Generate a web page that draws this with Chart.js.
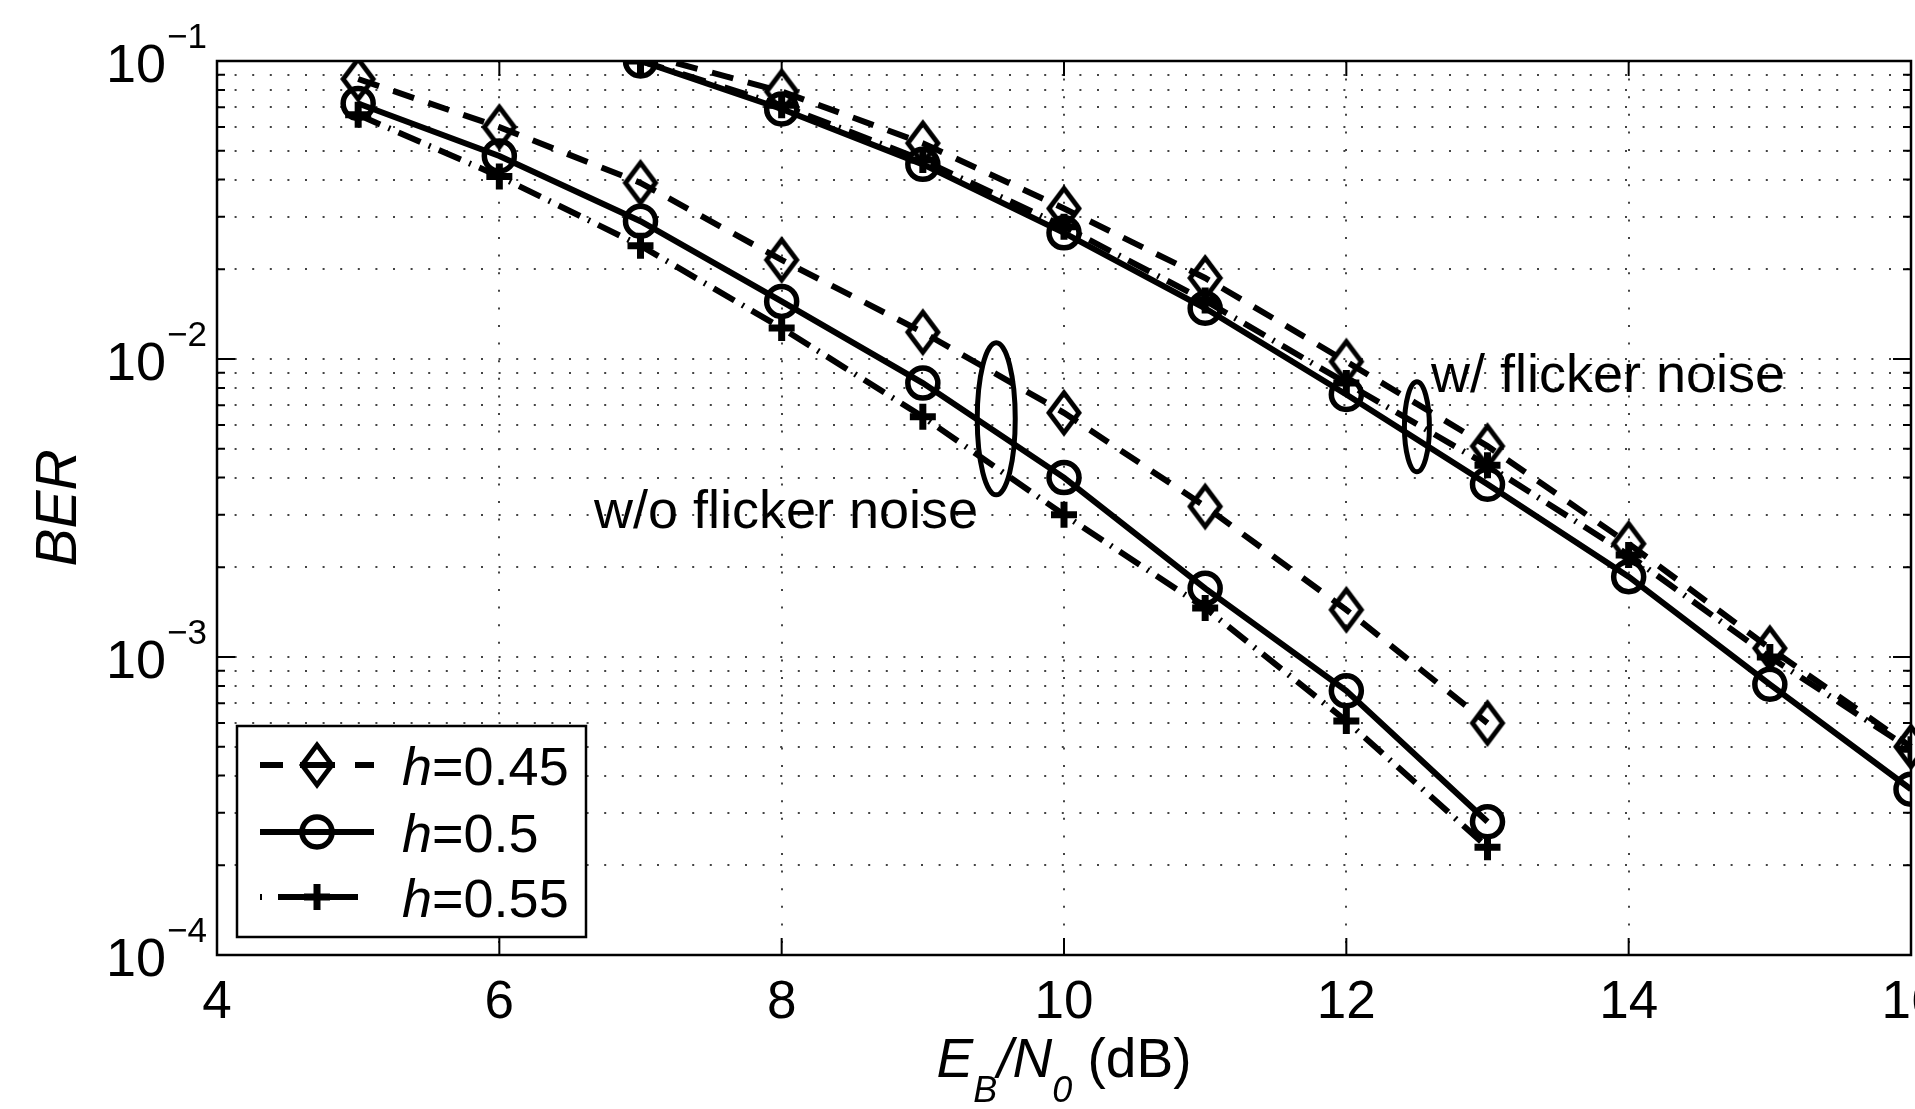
<!DOCTYPE html>
<html>
<head>
<meta charset="utf-8">
<script src="https://cdn.jsdelivr.net/npm/chart.js@4.4.1/dist/chart.umd.min.js"></script>
<style>
  html, body { margin: 0; padding: 0; background: #fff; overflow: hidden; }
  #wrap { width: 1960px; height: 1109px; }
</style>
</head>
<body>
<div id="wrap"><canvas id="ber" width="1960" height="1109"></canvas></div>
<script>
// Eb/N0 points (dB)
const ebn0Low = [5, 6, 7, 8, 9, 10, 11, 12, 13];
const ebn0High = [7, 8, 9, 10, 11, 12, 13, 14, 15, 16];

// w/o flicker noise
const berLow045 = [0.087, 0.060, 0.039, 0.0215, 0.0123, 0.0066, 0.0032, 0.00144, 0.00060];
const berLow050 = [0.072, 0.048, 0.029, 0.0156, 0.0083, 0.0040, 0.0017, 0.00077, 0.00028];
const berLow055 = [0.066, 0.041, 0.024, 0.0127, 0.0064, 0.0030, 0.00146, 0.00061, 0.00023];

// w/ flicker noise
const berHigh045 = [0.106, 0.079, 0.053, 0.032, 0.0187, 0.0098, 0.0051, 0.0024, 0.00107, 0.00050];
const berHigh050 = [0.100, 0.069, 0.045, 0.0265, 0.0148, 0.0076, 0.0038, 0.00186, 0.00081, 0.00036];
const berHigh055 = [0.100, 0.071, 0.0465, 0.0278, 0.0157, 0.0083, 0.0044, 0.0022, 0.00100, 0.00049];

const xTicks = [4, 6, 8, 10, 12, 14, 16];
const yDecades = [-4, -3, -2, -1];
const hLabels = ['0.45', '0.5', '0.55'];

const FONT = "'Liberation Sans', Arial, Helvetica, sans-serif";

// y grid: every 1..9 x 10^k, major at 10^k
const yTicks = [];
yDecades.forEach((d, i) => {
  const steps = i < yDecades.length - 1 ? 9 : 1;
  for (let m = 1; m <= steps; m++) yTicks.push({ value: +(m * Math.pow(10, d)).toPrecision(3), major: m === 1 });
});

const pts = (xs, ys) => xs.map((x, i) => ({ x: x, y: ys[i] }));

function makeDiamond() {
  const c = document.createElement('canvas');
  c.width = 42; c.height = 54;
  const g = c.getContext('2d');
  g.strokeStyle = '#000';
  g.lineWidth = 4.8;
  g.lineJoin = 'miter';
  g.beginPath();
  g.moveTo(21, 7); g.lineTo(36, 27); g.lineTo(21, 47); g.lineTo(6, 27);
  g.closePath();
  g.stroke();
  return c;
}
const diamond = makeDiamond();

const style045 = { borderDash: [22, 15], pointStyle: diamond, pointBorderWidth: 1,
  pointRadius: c => (c.raw && c.raw.y > 0.1) ? 0 : 18 };
const style050 = { borderDash: [], pointStyle: 'circle', pointRadius: 15, pointBorderWidth: 5.5 };
const style055 = { borderDash: [24, 9, 2, 9], pointStyle: 'cross', pointRadius: 13, pointBorderWidth: 7 };

const common = { borderColor: '#000', borderWidth: 6, pointBorderColor: '#000',
  pointBackgroundColor: 'rgba(0,0,0,0)', tension: 0, fill: false };

const annotations = [
  { text: 'w/o flicker noise', x: 6.67, y: 0.00271 },
  { text: 'w/ flicker noise', x: 12.6, y: 0.00775 }
];
const ellipses = [
  { x: 9.52, y: 0.0063, rx: 19, ry: 76 },
  { x: 12.5, y: 0.00592, rx: 12.5, ry: 45 }
];

const axesFrame = {
  id: 'axesFrame',
  beforeDatasetsDraw(chart) {
    const { ctx, chartArea: a, scales: { x, y } } = chart;
    ctx.save();
    ctx.strokeStyle = '#000';
    ctx.lineWidth = 2;
    ctx.beginPath();
    x.ticks.forEach(t => {
      const px = x.getPixelForValue(t.value);
      ctx.moveTo(px, a.bottom); ctx.lineTo(px, a.bottom - 17);
      ctx.moveTo(px, a.top); ctx.lineTo(px, a.top + 15);
    });
    y.ticks.forEach(t => {
      const py = y.getPixelForValue(t.value);
      const len = t.major ? 18 : 8;
      ctx.moveTo(a.left, py); ctx.lineTo(a.left + len, py);
      ctx.moveTo(a.right, py); ctx.lineTo(a.right - len, py);
    });
    ctx.stroke();
    ctx.lineWidth = 2.5;
    ctx.strokeRect(a.left, a.top, a.right - a.left, a.bottom - a.top);
    ctx.restore();
  },
  afterDatasetsDraw(chart) {
    const { ctx, scales: { x, y } } = chart;
    ctx.save();
    ctx.strokeStyle = '#000';
    ctx.lineWidth = 5;
    ellipses.forEach(e => {
      ctx.beginPath();
      ctx.ellipse(x.getPixelForValue(e.x), y.getPixelForValue(e.y), e.rx, e.ry, 0, 0, Math.PI * 2);
      ctx.stroke();
    });
    ctx.restore();
  },
  afterDraw(chart) {
    const { ctx, chartArea: a, scales: { x, y } } = chart;
    ctx.save();
    ctx.fillStyle = '#000';

    // x tick labels
    ctx.font = '53px ' + FONT;
    ctx.textAlign = 'center';
    ctx.textBaseline = 'alphabetic';
    xTicks.forEach(v => ctx.fillText(String(v), x.getPixelForValue(v), 1018));

    // y tick labels 10^k
    yDecades.forEach(d => {
      const py = y.getPixelForValue(Math.pow(10, d));
      ctx.font = '54px ' + FONT;
      ctx.textAlign = 'right';
      ctx.fillText('10', a.left - 51, py + 21);
      ctx.font = '35px ' + FONT;
      ctx.textAlign = 'left';
      ctx.fillText('\u2212' + Math.abs(d), a.left - 50, py - 13);
    });

    // x title E_B/N_0 (dB)
    const parts = [
      { t: 'E', f: 'italic 55px ', dy: 0 },
      { t: 'B', f: 'italic 36px ', dy: 25 },
      { t: '/', f: 'italic 55px ', dy: 0 },
      { t: 'N', f: 'italic 55px ', dy: 0 },
      { t: '0', f: 'italic 36px ', dy: 25 },
      { t: ' (dB)', f: '55px ', dy: 0 }
    ];
    let total = 0;
    parts.forEach(p => { ctx.font = p.f + FONT; p.w = ctx.measureText(p.t).width; total += p.w; });
    let cx = (a.left + a.right) / 2 - total / 2;
    ctx.textAlign = 'left';
    parts.forEach(p => { ctx.font = p.f + FONT; ctx.fillText(p.t, cx, 1077 + p.dy); cx += p.w; });

    // y title
    ctx.save();
    ctx.translate(76, (a.top + a.bottom) / 2);
    ctx.rotate(-Math.PI / 2);
    ctx.font = 'italic 57px ' + FONT;
    ctx.textAlign = 'center';
    ctx.fillText('BER', 0, 0);
    ctx.restore();

    // annotations
    ctx.font = '54px ' + FONT;
    ctx.textAlign = 'left';
    annotations.forEach(n => ctx.fillText(n.text, x.getPixelForValue(n.x), y.getPixelForValue(n.y)));

    // legend
    const lx = 237, ly = 726, lw = 349, lh = 211;
    ctx.fillStyle = '#fff';
    ctx.fillRect(lx, ly, lw, lh);
    ctx.strokeStyle = '#000';
    ctx.lineWidth = 2.5;
    ctx.strokeRect(lx, ly, lw, lh);
    const rows = [765, 832, 897];
    const dashes = [[23, 17, 35, 20, 19], [], [2, 16, 80, 16, 2]];
    rows.forEach((ry, i) => {
      ctx.lineWidth = 6;
      ctx.setLineDash(dashes[i]);
      ctx.beginPath();
      ctx.moveTo(260, ry); ctx.lineTo(374, ry);
      ctx.stroke();
      ctx.setLineDash([]);
      if (i === 0) {
        ctx.drawImage(diamond, 317 - diamond.width / 2, ry - diamond.height / 2);
      } else if (i === 1) {
        ctx.lineWidth = 5.5;
        ctx.beginPath(); ctx.arc(317, ry, 15, 0, Math.PI * 2); ctx.stroke();
      } else {
        ctx.lineWidth = 7;
        ctx.beginPath();
        ctx.moveTo(304, ry); ctx.lineTo(330, ry);
        ctx.moveTo(317, ry - 13); ctx.lineTo(317, ry + 13);
        ctx.stroke();
      }
      ctx.fillStyle = '#000';
      ctx.font = 'italic 54px ' + FONT;
      ctx.fillText('h', 402, ry + 20);
      const hw = ctx.measureText('h').width;
      ctx.font = '54px ' + FONT;
      ctx.fillText('=' + hLabels[i], 402 + hw, ry + 20);
    });
    ctx.restore();
  }
};

new Chart(document.getElementById('ber'), {
  type: 'line',
  data: {
    datasets: [
      Object.assign({ label: 'h=0.45', data: pts(ebn0Low, berLow045) }, common, style045),
      Object.assign({ label: 'h=0.5', data: pts(ebn0Low, berLow050) }, common, style050),
      Object.assign({ label: 'h=0.55', data: pts(ebn0Low, berLow055) }, common, style055),
      Object.assign({ label: 'h=0.45 flicker', data: pts(ebn0High, berHigh045),
        clip: { left: 40, top: 0, right: 40, bottom: 40 } }, common, style045),
      Object.assign({ label: 'h=0.5 flicker', data: pts(ebn0High, berHigh050) }, common, style050),
      Object.assign({ label: 'h=0.55 flicker', data: pts(ebn0High, berHigh055) }, common, style055)
    ]
  },
  options: {
    responsive: false,
    animation: false,
    events: [],
    layout: { padding: { left: 217, top: 61, right: 49, bottom: 154 } },
    plugins: { legend: { display: false }, tooltip: { enabled: false } },
    scales: {
      x: {
        type: 'linear', min: 4, max: 16,
        afterBuildTicks: s => { s.ticks = xTicks.map(v => ({ value: v, major: true })); },
        afterFit: s => { s.height = 0; },
        ticks: { display: false },
        grid: { color: '#444', lineWidth: 2, drawTicks: false },
        border: { display: false, dash: [2, 15.6] }
      },
      y: {
        type: 'logarithmic', min: 1e-4, max: 1e-1,
        afterBuildTicks: s => { s.ticks = yTicks.map(t => ({ value: t.value, major: t.major })); },
        afterFit: s => { s.width = 0; },
        ticks: { display: false },
        grid: { color: '#444', lineWidth: 2, drawTicks: false },
        border: { display: false, dash: [2, 15.6] }
      }
    }
  },
  plugins: [axesFrame]
});
</script>
</body>
</html>
